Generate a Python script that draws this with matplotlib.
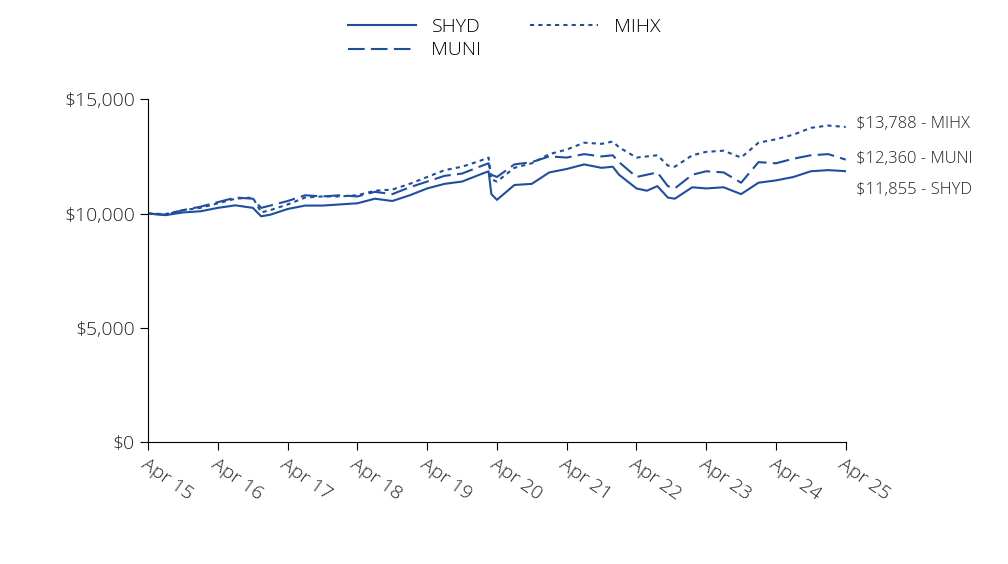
import matplotlib
matplotlib.use("Agg")
import matplotlib.pyplot as plt

t = [0,0.25,0.5,0.75,1.0,1.25,1.5,1.62,1.75,2.0,2.25,2.5,2.75,3.0,3.25,3.5,3.75,4.0,4.25,4.5,4.75,4.88,4.92,5.0,5.25,5.5,5.75,6.0,6.25,6.5,6.66,6.75,7.0,7.15,7.3,7.45,7.55,7.8,8.0,8.25,8.5,8.75,9.0,9.25,9.5,9.75,10.0]
shyd = [10000,9930,10050,10100,10250,10360,10250,9880,9950,10200,10350,10350,10400,10450,10650,10550,10800,11100,11300,11400,11700,11850,10850,10600,11250,11300,11800,11950,12150,12000,12050,11700,11100,11000,11200,10700,10650,11150,11100,11150,10850,11350,11450,11600,11850,11900,11855]
muni = [10000,9950,10150,10300,10500,10700,10650,10250,10350,10550,10800,10750,10800,10750,10950,10850,11150,11400,11650,11750,12050,12200,11700,11600,12150,12250,12500,12450,12600,12500,12550,12250,11600,11700,11800,11200,11100,11700,11850,11800,11350,12250,12200,12400,12550,12600,12360]
mihx = [10000,9980,10150,10250,10450,10650,10700,10050,10150,10400,10700,10750,10750,10800,11000,11050,11300,11600,11900,12050,12300,12450,11500,11400,12000,12200,12600,12800,13100,13050,13150,12900,12450,12500,12550,12100,12050,12550,12700,12750,12450,13100,13250,13450,13750,13850,13788]

c = "#1f4ea1"
fam = "Open Sans"
fig = plt.figure(figsize=(10.08,5.64), dpi=100)
ax = fig.add_axes([0.147, 0.216, 0.692, 0.608])
l1, = ax.plot(t, shyd, color=c, lw=1.5, label="SHYD")
l2, = ax.plot(t, muni, color=c, lw=1.5, ls=(0,(8,3)), label="MUNI")
l3, = ax.plot(t, mihx, color=c, lw=1.5, ls=(0,(2,2)), label="MIHX")
ax.set_xlim(0,10); ax.set_ylim(0,15000)
ax.set_xticks(range(11))
ax.set_xticklabels(["Apr %d" % y for y in range(15,26)], rotation=-35, ha="left", rotation_mode="anchor", fontsize=14, fontfamily=fam, fontweight="light", color="#222")
ax.set_yticks([0,5000,10000,15000])
ax.set_yticklabels(["$0","$5,000","$10,000","$15,000"], fontsize=14, fontfamily=fam, fontweight="light", color="#222")
for s in ["top","right"]: ax.spines[s].set_visible(False)
ax.tick_params(length=6)
for y, lab in [(13900,"$13,788 - MIHX"),(12380,"$12,360 - MUNI"),(11050,"$11,855 - SHYD")]:
    ax.text(10.15, y, lab, fontsize=12, fontfamily=fam, fontweight="light", va="center", color="#222", clip_on=False)
fig.legend(handles=[l1,l2,l3], labels=["SHYD","MUNI","MIHX"], loc="upper center", bbox_to_anchor=(0.5,1.0), ncol=2, frameon=False, prop={"family":fam,"size":14,"weight":"light"}, handlelength=3.5, columnspacing=2.5, labelspacing=0.3)
fig.savefig("out.png", dpi=100)
